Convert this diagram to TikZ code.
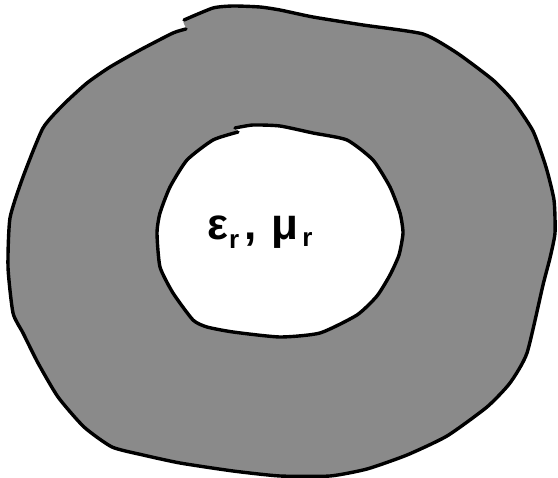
\documentclass[tikz,border=0pt]{standalone}
\usepackage{fontspec}
\setmainfont{Liberation Sans}
\begin{document}
\begin{tikzpicture}[x=1pt,y=-1pt,
  rim/.style={line width=3.4pt, line join=round, line cap=round, black},
  lbl/.style={inner sep=0pt, font=\bfseries}]
\useasboundingbox (0,0) rectangle (558,478);
\def\outerpts{(184,20) (213,8) (233,6) (260,7) (280,10) (313,17) (363,25)
 (423,34) (457,53) (493,80) (513,101) (533,131) (546,167) (554,200)
 (555,233) (550,258) (543,285) (527,353) (510,383) (487,407) (447,436)
 (407,455) (367,469) (330,476) (280,476) (233,471) (180,463) (143,455)
 (112,447) (84,427) (58,397) (38,363) (23,333) (13,313) (8,267) (10,218)
 (23,177) (43,128) (64,104) (87,83) (110,67) (140,50) (173,33) (186,29)}
\def\innerpts{(235,128) (253,125) (280,126) (313,133) (347,140) (373,160)
 (390,187) (400,213) (403,233) (399,255) (390,275) (377,296) (357,315)
 (320,333) (280,337) (233,332) (207,327) (193,320) (173,293) (160,267)
 (157,233) (160,213) (170,187) (187,160) (213,140) (238,132)}
% outer region fill
\fill[black!46] plot[smooth cycle, tension=0.35] coordinates {\outerpts};
\draw[rim] plot[smooth, tension=0.35] coordinates {\outerpts};
% inner region
\fill[white] plot[smooth cycle, tension=0.35] coordinates {\innerpts};
\draw[rim] plot[smooth, tension=0.35] coordinates {\innerpts};
\node[lbl, anchor=base west] (txt) at (207,240)
  {\fontsize{44}{44}\selectfont ε\kern1pt\raisebox{-9pt}{\fontsize{26}{26}\selectfont r}\kern5pt,\kern15pt μ\kern4pt\raisebox{-7pt}{\fontsize{26}{26}\selectfont r}};
\end{tikzpicture}
\end{document}
